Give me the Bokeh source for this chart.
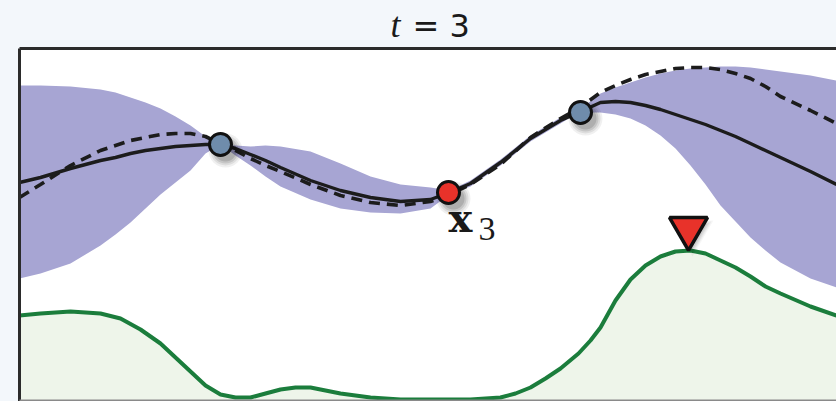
from bokeh.plotting import figure
from bokeh.models import Range1d
from bokeh.core.properties import value
from bokeh.embed import file_html
from bokeh.resources import INLINE

# common x grid for the GP curves
xs = [0.00, 0.21, 0.51, 0.81, 0.96, 1.11, 1.26, 1.41, 1.56, 1.71, 1.86, 2.01, 2.16, 2.31,
      2.46, 2.61, 2.91, 3.21, 3.51, 3.81, 4.11, 4.30, 4.51, 4.81, 5.11, 5.41, 5.59, 5.81,
      5.96, 6.11, 6.26, 6.41, 6.56, 6.71, 6.86, 7.01, 7.16, 7.31, 7.46, 7.61, 7.91, 8.17]

# posterior mean (solid)
mean = [2.18, 2.23, 2.32, 2.40, 2.43, 2.47, 2.50, 2.52, 2.54, 2.55, 2.56, 2.56, 2.52, 2.46,
        2.40, 2.33, 2.20, 2.10, 2.03, 1.99, 2.01, 2.08, 2.17, 2.38, 2.62, 2.80, 2.88, 2.98,
        2.99, 2.98, 2.95, 2.91, 2.86, 2.81, 2.76, 2.70, 2.64, 2.57, 2.50, 2.43, 2.29, 2.16]

# true objective (dashed)
truth = [2.03, 2.16, 2.35, 2.50, 2.55, 2.60, 2.63, 2.66, 2.67, 2.67, 2.64, 2.57, 2.50, 2.42,
         2.35, 2.29, 2.16, 2.05, 1.98, 1.95, 1.99, 2.06, 2.16, 2.36, 2.63, 2.82, 2.92, 3.08,
         3.15, 3.21, 3.26, 3.29, 3.32, 3.33, 3.33, 3.31, 3.27, 3.22, 3.14, 3.04, 2.90, 2.77]

# uncertainty band
upper = [3.15, 3.15, 3.14, 3.11, 3.08, 3.03, 2.98, 2.92, 2.84, 2.75, 2.64, 2.56, 2.55, 2.54,
         2.55, 2.54, 2.49, 2.37, 2.24, 2.16, 2.13, 2.10, 2.20, 2.41, 2.65, 2.83, 2.90, 3.07,
         3.13, 3.18, 3.23, 3.27, 3.30, 3.32, 3.33, 3.34, 3.34, 3.33, 3.31, 3.29, 3.25, 3.20]
lower = [1.22, 1.27, 1.37, 1.55, 1.66, 1.78, 1.92, 2.06, 2.18, 2.30, 2.47, 2.56, 2.45, 2.35,
         2.24, 2.14, 2.01, 1.92, 1.88, 1.87, 1.92, 2.06, 2.14, 2.35, 2.59, 2.77, 2.88, 2.88,
         2.86, 2.82, 2.75, 2.65, 2.52, 2.35, 2.16, 1.95, 1.79, 1.63, 1.50, 1.38, 1.22, 1.13]

# acquisition function (green)
xa = [0.00, 0.21, 0.51, 0.81, 1.01, 1.21, 1.41, 1.56, 1.71, 1.86, 2.01, 2.16, 2.31, 2.46,
      2.61, 2.76, 2.91, 3.06, 3.21, 3.51, 3.81, 4.51, 4.81, 4.96, 5.11, 5.26, 5.41, 5.59,
      5.71, 5.81, 5.96, 6.11, 6.26, 6.41, 6.56, 6.71, 6.86, 7.01, 7.16, 7.31, 7.46, 7.61,
      7.91, 8.17]
acq = [0.85, 0.87, 0.89, 0.87, 0.82, 0.71, 0.57, 0.43, 0.29, 0.15, 0.06, 0.03, 0.03, 0.07,
       0.11, 0.13, 0.13, 0.10, 0.07, 0.03, 0.01, 0.01, 0.03, 0.07, 0.13, 0.22, 0.32, 0.47,
       0.60, 0.73, 1.00, 1.21, 1.35, 1.44, 1.49, 1.50, 1.47, 1.40, 1.33, 1.24, 1.14, 1.07,
       0.94, 0.85]

# observations
obs_x = [2.01, 5.61]
obs_y = [2.56, 2.88]
new_x = [4.29]
new_y = [2.08]
next_x = [6.69]
next_y = [1.72]

# plot-area extents (data units) and title
X0, X1, Y0, Y1 = 0.0, 8.17, 0.0, 3.52
title_t = "t"
title_rest = "= 3"

BG = "#f3f7fb"

p = figure(width=836, height=401, output_backend="svg", toolbar_location=None,
           x_range=Range1d(-0.02, 8.17), y_range=Range1d(-0.01, 4.00),
           x_axis_location=None, y_axis_location=None,
           min_border_left=17, min_border_right=0, min_border_top=0, min_border_bottom=0)
p.border_fill_color = BG
p.background_fill_color = BG
p.outline_line_color = None
p.xgrid.visible = False
p.ygrid.visible = False

# white plotting panel
p.quad(left=[X0], right=[X1 + 0.05], bottom=[Y0 - 0.05], top=[Y1],
       fill_color="white", line_color=None)

p.varea(x=xa, y1=[0] * len(xa), y2=acq, fill_color="#eef5ea")
p.varea(x=xs, y1=lower, y2=upper, fill_color="#a7a5d3")
p.line(xa, acq, line_color="#1b7d3c", line_width=4)
p.line(xs, truth, line_color="#1c1c1c", line_width=3.6, line_dash="11 7")
p.line(xs, mean, line_color="#1c1c1c", line_width=3.4)

# soft shadows
for s, a in [(34, 0.06), (30, 0.08), (26, 0.10), (22, 0.12)]:
    p.scatter([v + 0.05 for v in obs_x + new_x], [v - 0.06 for v in obs_y + new_y],
              size=s, fill_color="black", fill_alpha=a, line_color=None)
    p.scatter([v + 0.04 for v in next_x], [v - 0.04 for v in next_y], marker="inverted_triangle",
              size=s + 8, fill_color="black", fill_alpha=a * 0.6, line_color=None)

p.scatter(obs_x, obs_y, size=22, fill_color="#6f8cab", line_color="#111111", line_width=3)
p.scatter(new_x, new_y, size=22, fill_color="#e8322a", line_color="#111111", line_width=3)
p.scatter(next_x, next_y, marker="inverted_triangle", size=38, fill_color="#e8322a",
          line_color="#111111", line_width=3.5)

# x_3 label
p.text(x=[4.29], y=[1.83], text=["x"], text_font=value("DejaVu Serif"),
       text_font_style="bold", text_font_size="40px", text_align="left",
       text_baseline="alphabetic", text_color="#1a1a1a")
p.text(x=[4.59], y=[1.72], text=["3"], text_font=value("Liberation Serif"),
       text_font_size="34px", text_align="left", text_baseline="alphabetic",
       text_color="#1a1a1a")

# frame borders (left, top dark; bottom grey)
p.line([X0, X0], [Y0 - 0.02, Y1], line_color="#2b2b2b", line_width=3)
p.line([X0, X1 + 0.05], [Y1, Y1], line_color="#2b2b2b", line_width=3)
p.line([X0, X1 + 0.05], [Y0, Y0], line_color="#8a8a8a", line_width=2)

# title "t = 3"
p.text(x=[3.71], y=[3.76], text=[title_t], text_font=value("Liberation Serif"),
       text_font_style="italic", text_font_size="36px", text_align="left",
       text_baseline="alphabetic", text_color="#1a1a1a")
p.text(x=[3.93], y=[3.75], text=[title_rest], text_font=value("DejaVu Sans"),
       text_font_size="32px", text_align="left", text_baseline="alphabetic",
       text_color="#1a1a1a")

html = file_html(p, INLINE)
html = html.replace("</head>", "<style>html,body{background:%s;}</style></head>" % BG, 1)
open("out.html", "w").write(html)
